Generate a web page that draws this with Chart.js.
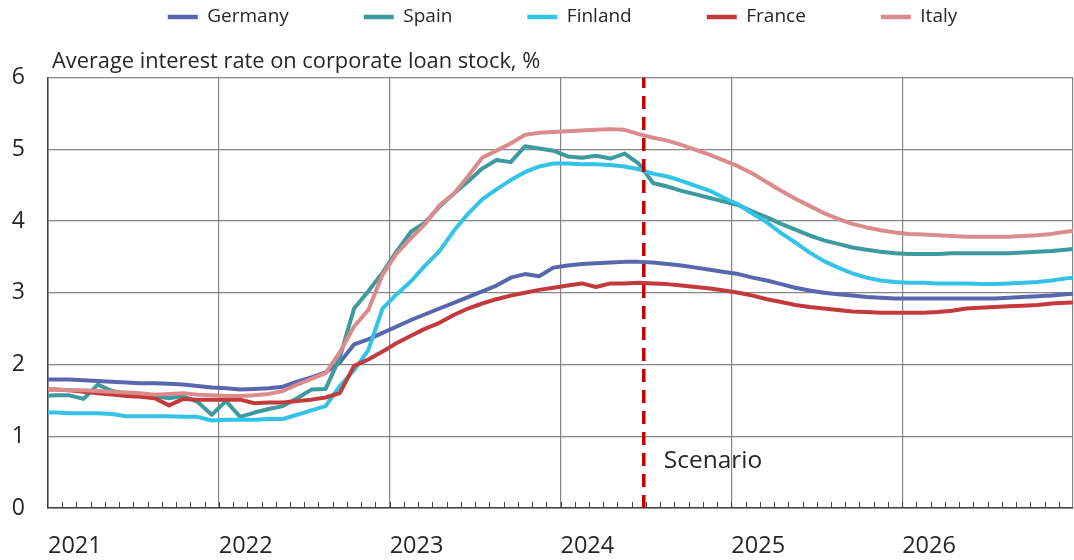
<!DOCTYPE html>
<html>
<head>
<meta charset="utf-8">
<script src="https://cdn.jsdelivr.net/npm/chart.js@4.4.1/dist/chart.umd.min.js"></script>
<style>
    html, body { margin: 0; padding: 0; background: #ffffff; }
    #wrap { width: 1074px; height: 560px; position: relative; }
</style>
</head>
<body>
<div id="wrap"><canvas id="rateChart"></canvas></div>
<script>
/*==================================================
DATA (monthly, each value sits mid-month; first = Dec 2020, last = Jan 2027)
==================================================*/

const yearLabels = ["2021", "2022", "2023", "2024", "2025", "2026"];

const yTicks = [0, 1, 2, 3, 4, 5, 6];

const seriesNames = ["Germany", "Spain", "Finland", "France", "Italy"];

const germany = [
    1.79,
    1.79, 1.79, 1.78, 1.77, 1.76, 1.75, 1.74, 1.74, 1.73, 1.72, 1.70, 1.68,
    1.67, 1.65, 1.66, 1.67, 1.69, 1.76, 1.82, 1.89, 2.03, 2.28, 2.35, 2.44,
    2.53, 2.62, 2.70, 2.78, 2.86, 2.94, 3.02, 3.10, 3.21, 3.26, 3.23, 3.35,
    3.38, 3.40, 3.41, 3.42, 3.43, 3.43, 3.42, 3.40, 3.38, 3.35, 3.32, 3.29,
    3.26, 3.21, 3.17, 3.12, 3.07, 3.03, 3.00, 2.98, 2.96, 2.94, 2.93, 2.92,
    2.92, 2.92, 2.92, 2.92, 2.92, 2.92, 2.92, 2.93, 2.94, 2.95, 2.96, 2.98,
    2.99
];

const spain = [
    1.56,
    1.57, 1.57, 1.52, 1.72, 1.63, 1.60, 1.57, 1.56, 1.53, 1.56, 1.48, 1.30,
    1.49, 1.27, 1.33, 1.38, 1.42, 1.53, 1.65, 1.66, 2.10, 2.78, 3.02, 3.28,
    3.58, 3.85, 3.98, 4.20, 4.38, 4.55, 4.73, 4.85, 4.82, 5.04, 5.01, 4.98,
    4.90, 4.88, 4.91, 4.87, 4.94, 4.80, 4.53, 4.48, 4.42, 4.37, 4.32, 4.27,
    4.22, 4.13, 4.05, 3.96, 3.88, 3.80, 3.73, 3.68, 3.63, 3.60, 3.57, 3.55,
    3.54, 3.54, 3.54, 3.55, 3.55, 3.55, 3.55, 3.55, 3.56, 3.57, 3.58, 3.60,
    3.62
];

const finland = [
    1.33,
    1.33, 1.32, 1.32, 1.32, 1.31, 1.28, 1.28, 1.28, 1.28, 1.27, 1.27, 1.22,
    1.23, 1.23, 1.23, 1.24, 1.24, 1.30, 1.36, 1.42, 1.70, 1.92, 2.20, 2.78,
    2.98, 3.16, 3.38, 3.58, 3.86, 4.10, 4.30, 4.44, 4.57, 4.68, 4.76, 4.80,
    4.80, 4.79, 4.79, 4.78, 4.76, 4.72, 4.66, 4.62, 4.56, 4.49, 4.42, 4.32,
    4.23, 4.10, 3.98, 3.83, 3.70, 3.56, 3.44, 3.35, 3.27, 3.21, 3.17, 3.15,
    3.14, 3.14, 3.13, 3.13, 3.13, 3.12, 3.12, 3.13, 3.14, 3.15, 3.17, 3.20,
    3.22
];

const france = [
    1.65,
    1.65, 1.64, 1.62, 1.60, 1.58, 1.56, 1.55, 1.53, 1.43, 1.52, 1.51, 1.51,
    1.51, 1.51, 1.46, 1.47, 1.47, 1.49, 1.51, 1.54, 1.60, 1.98, 2.07, 2.18,
    2.30, 2.40, 2.50, 2.58, 2.69, 2.78, 2.85, 2.91, 2.96, 3.00, 3.04, 3.07,
    3.10, 3.13, 3.08, 3.13, 3.13, 3.14, 3.13, 3.12, 3.10, 3.08, 3.06, 3.03,
    3.00, 2.96, 2.91, 2.87, 2.83, 2.80, 2.78, 2.76, 2.74, 2.73, 2.72, 2.72,
    2.72, 2.72, 2.73, 2.75, 2.78, 2.79, 2.80, 2.81, 2.82, 2.83, 2.85, 2.86,
    2.87
];

const italy = [
    1.65,
    1.65, 1.64, 1.64, 1.63, 1.62, 1.61, 1.60, 1.58, 1.59, 1.60, 1.58, 1.57,
    1.56, 1.56, 1.57, 1.59, 1.63, 1.72, 1.80, 1.88, 2.17, 2.53, 2.76, 3.25,
    3.55, 3.76, 3.96, 4.22, 4.38, 4.62, 4.88, 4.98, 5.08, 5.20, 5.23, 5.24,
    5.25, 5.26, 5.27, 5.28, 5.27, 5.21, 5.16, 5.12, 5.06, 4.99, 4.92, 4.84,
    4.76, 4.66, 4.54, 4.42, 4.31, 4.21, 4.11, 4.03, 3.96, 3.91, 3.87, 3.84,
    3.82, 3.81, 3.80, 3.79, 3.78, 3.78, 3.78, 3.78, 3.79, 3.80, 3.82, 3.85,
    3.87
];

// scenario starts here (months after 1 Jan 2021)
const scenarioStart = 41.85;

/*==================================================
STYLE
==================================================*/

const FONT = "'Open Sans', 'DejaVu Sans', sans-serif";
const TEXT = "#262626";

const seriesColors = ["#5867ad", "#3d9a9e", "#33c3e6", "#c23a3c", "#dc8b8c"];

const monthPos = germany.map((v, i) => i - 0.5);

/*==================================================
PLUGINS
==================================================*/

// small monthly tick marks inside the plot along the x axis
const monthTicks = {
    id: "monthTicks",
    beforeDatasetsDraw(chart) {
        const x = chart.scales.x;
        const bottom = chart.chartArea.bottom;
        const ctx = chart.ctx;
        ctx.save();
        ctx.strokeStyle = "#404040";
        ctx.lineWidth = 1;
        ctx.beginPath();
        for (let m = 1; m < yearLabels.length * 12; m++) {
            const px = Math.round(x.getPixelForValue(m)) + 0.5;
            ctx.moveTo(px, bottom);
            ctx.lineTo(px, bottom - 6);
        }
        ctx.stroke();
        ctx.restore();
    }
};

// scenario label next to the dashed line
const scenarioText = {
    id: "scenarioText",
    afterDatasetsDraw(chart) {
        const ctx = chart.ctx;
        ctx.save();
        ctx.font = "24.5px " + FONT;
        ctx.fillStyle = TEXT;
        ctx.textBaseline = "middle";
        ctx.fillText("Scenario",
            chart.scales.x.getPixelForValue(scenarioStart) + 20,
            chart.scales.y.getPixelForValue(0.66));
        ctx.restore();
    }
};

// nudge legend and title into place
const LEGEND_PAD = 75;
const placeBlocks = {
    id: "placeBlocks",
    afterLayout(chart) {
        const lg = chart.legend;
        lg.top = 17 - 19 / 2 - LEGEND_PAD;
        lg.left += 26;
        lg.right += 26;
        chart.titleBlock.left = 52;
    }
};

/*==================================================
CHART
==================================================*/

const datasets = [germany, spain, finland, france, italy].map((values, i) => ({
    label: seriesNames[i],
    data: values,
    borderColor: seriesColors[i],
    backgroundColor: seriesColors[i],
    borderWidth: 4,
    pointRadius: 0,
    tension: 0,
    borderJoinStyle: "round",
    borderCapStyle: "round",
    fill: false,
    order: seriesNames.length - i,
    clip: { left: 0, right: 0, top: 5, bottom: 5 }
}));

datasets.push({
    label: "scenario",
    data: [{ x: scenarioStart, y: yTicks[0] }, { x: scenarioStart, y: yTicks[yTicks.length - 1] }],
    borderColor: "#c00000",
    backgroundColor: "#c00000",
    borderWidth: 3.5,
    borderDash: [13, 8],
    pointRadius: 0,
    order: 0
});

new Chart(document.getElementById("rateChart"), {
    type: "line",
    data: {
        labels: monthPos,
        datasets: datasets
    },
    options: {
        responsive: true,
        maintainAspectRatio: false,
        animation: false,
        events: [],
        layout: {
            padding: { top: 0, right: 1, bottom: 0, left: 0 }
        },
        plugins: {
            legend: {
                position: "top",
                maxHeight: 36,
                labels: {
                    font: { family: FONT, size: 19 },
                    color: TEXT,
                    boxWidth: 30,
                    boxHeight: 4.5,
                    padding: LEGEND_PAD,
                    filter: item => item.datasetIndex < seriesNames.length,
                    sort: (a, b) => a.datasetIndex - b.datasetIndex,
                    generateLabels(chart) {
                        return Chart.defaults.plugins.legend.labels.generateLabels(chart)
                            .map(item => Object.assign(item, { lineWidth: 0 }));
                    }
                }
            },
            title: {
                display: true,
                weight: 500,
                text: "Average interest rate on corporate loan stock, %",
                align: "start",
                color: TEXT,
                font: { family: FONT, size: 21.8, weight: "normal" },
                padding: { top: 12.3, bottom: 3 }
            },
            tooltip: { enabled: false }
        },
        scales: {
            x: {
                type: "linear",
                min: 0,
                max: yearLabels.length * 12,
                afterFit(scale) {
                    scale.height = 52;
                    scale.paddingRight = 0;
                    scale.paddingLeft = 0;
                },
                grid: {
                    color: "#858585",
                    lineWidth: 1.2,
                    drawTicks: false
                },
                border: { color: "#404040", width: 1.5 },
                ticks: {
                    stepSize: 12,
                    autoSkip: false,
                    maxRotation: 0,
                    align: "start",
                    padding: 24,
                    color: TEXT,
                    font: { family: FONT, size: 23.5 },
                    callback: v => yearLabels[v / 12] || ""
                }
            },
            y: {
                min: yTicks[0],
                max: yTicks[yTicks.length - 1],
                afterFit(scale) { scale.width = 48; },
                grid: {
                    color: "#858585",
                    lineWidth: 1.2,
                    drawTicks: false
                },
                border: { color: "#404040", width: 1.5 },
                ticks: {
                    stepSize: 1,
                    padding: 23,
                    color: TEXT,
                    font: { family: FONT, size: 23 }
                }
            }
        }
    },
    plugins: [monthTicks, scenarioText, placeBlocks]
});
</script>
</body>
</html>
